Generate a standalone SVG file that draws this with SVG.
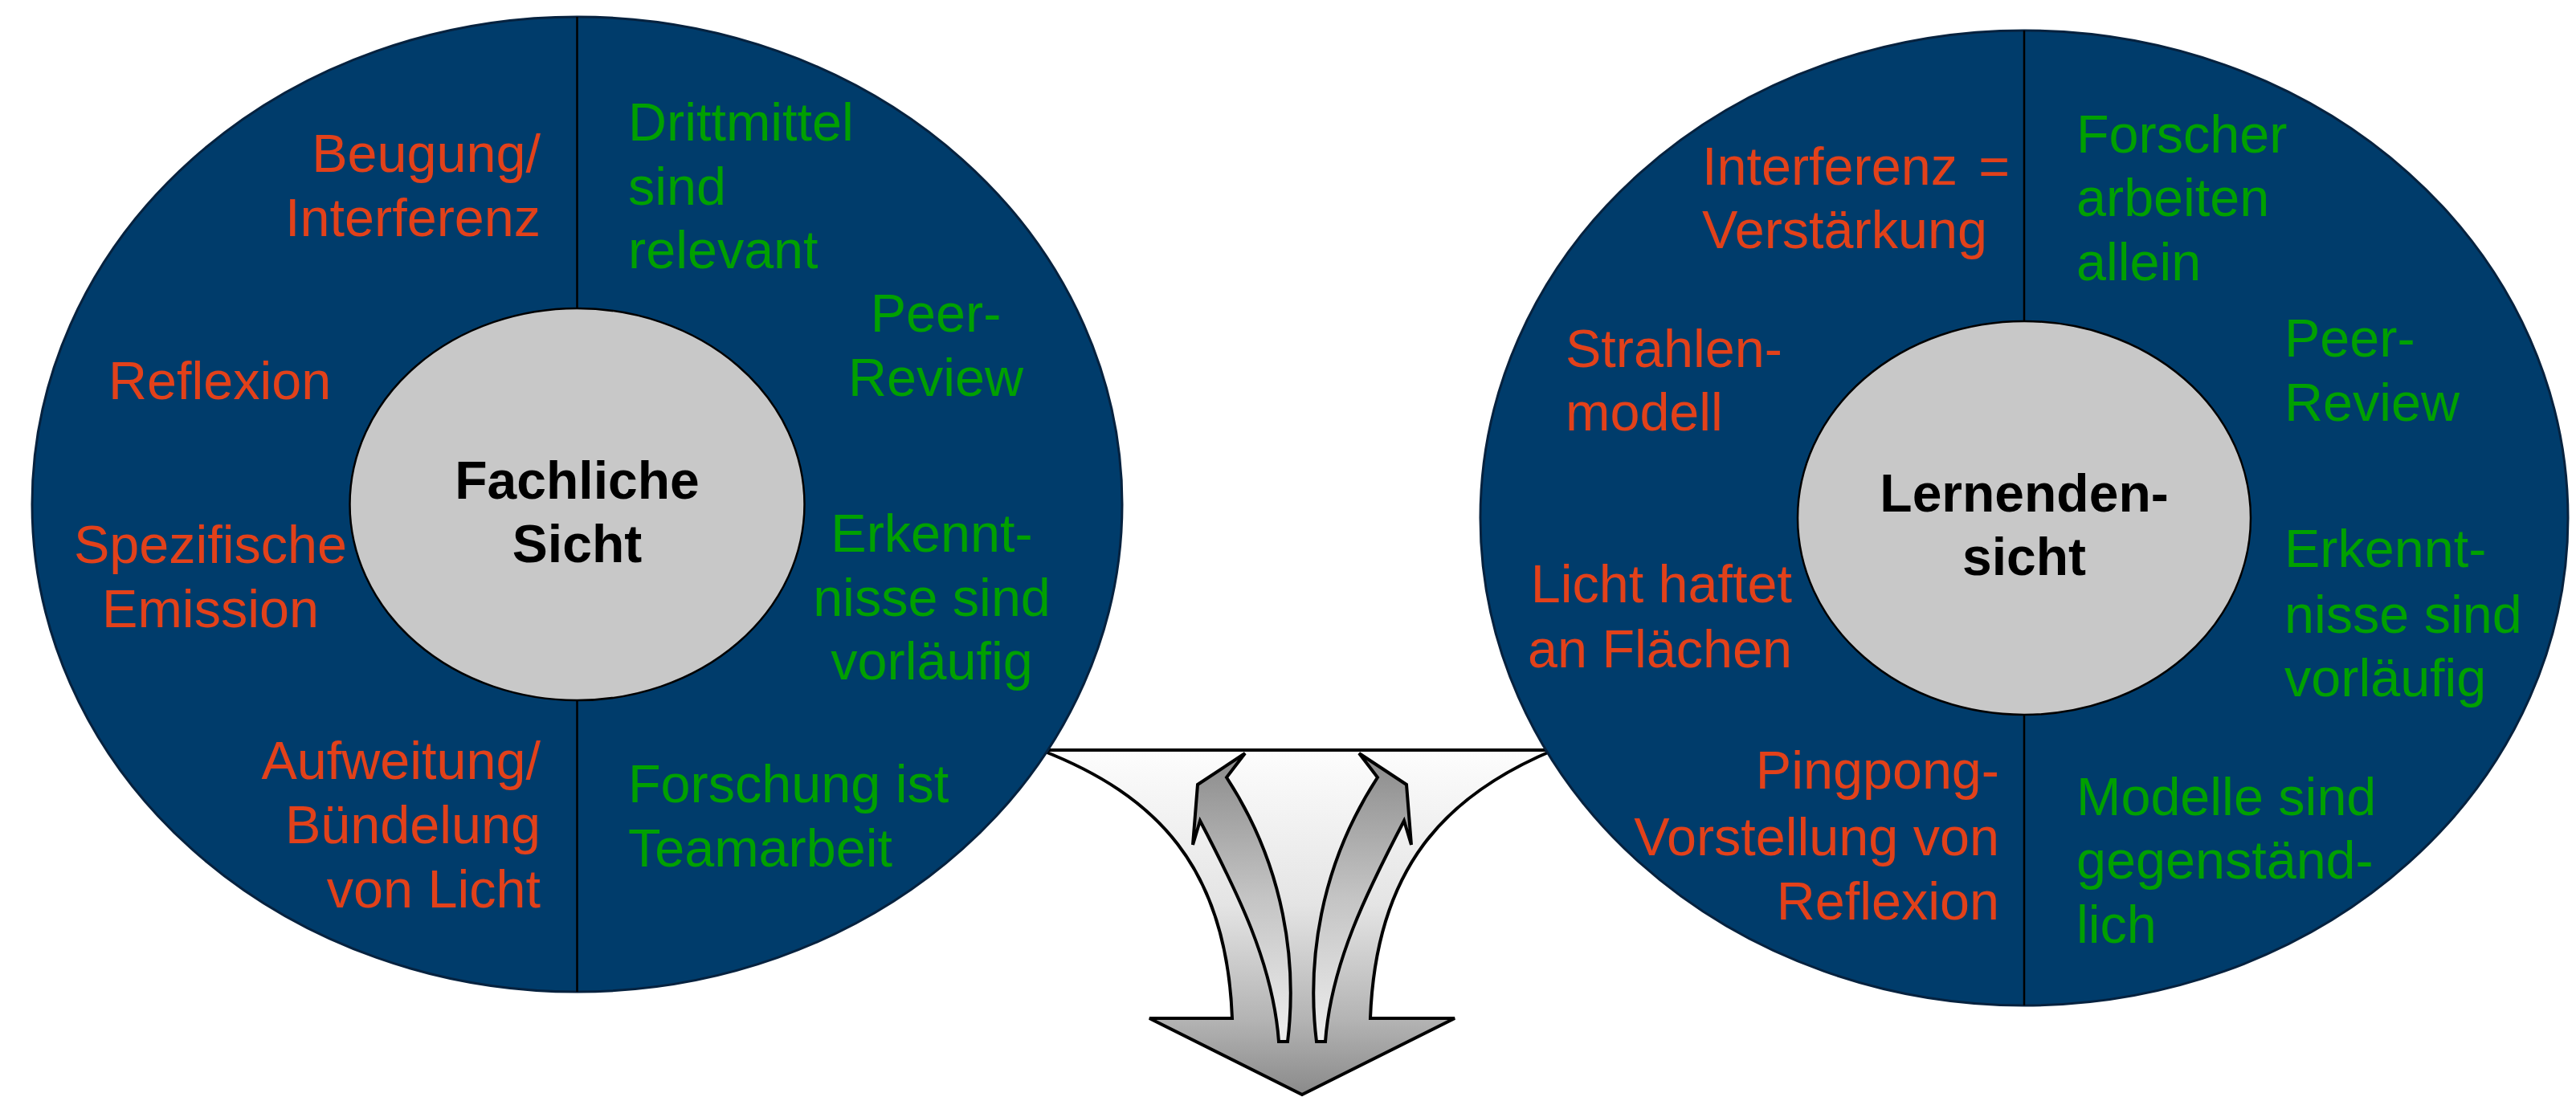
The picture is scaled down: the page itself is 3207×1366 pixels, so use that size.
<svg xmlns="http://www.w3.org/2000/svg" width="3207" height="1366" viewBox="0 0 3207 1366">
<defs>
<linearGradient id="gBig" x1="0" y1="934" x2="0" y2="1363" gradientUnits="userSpaceOnUse">
<stop offset="0" stop-color="#FDFDFD"/>
<stop offset="0.45" stop-color="#E4E4E4"/>
<stop offset="0.78" stop-color="#B4B4B4"/>
<stop offset="1" stop-color="#8A8A8A"/>
</linearGradient>
<linearGradient id="gSub" x1="0" y1="938" x2="0" y2="1297" gradientUnits="userSpaceOnUse">
<stop offset="0" stop-color="#8A8A8A"/>
<stop offset="0.5" stop-color="#C4C4C4"/>
<stop offset="1" stop-color="#EEEEEE"/>
</linearGradient>
<style>
.outer{fill:#003C6B;stroke:#06223F;stroke-width:3}
.inner{fill:#C8C8C8;stroke:#000;stroke-width:2.5}
.div{stroke:#000;stroke-width:2.5}
text{font-family:"Liberation Sans",Arial,sans-serif;font-size:66.5px}
.r{fill:#E2411A}
.g{fill:#00A000}
.c{font-weight:bold;font-size:66px;fill:#000;text-anchor:middle}
.e{text-anchor:end}
.m{text-anchor:middle}
.arr{stroke:#000;stroke-width:4;stroke-linejoin:miter}
</style>
</defs>
<rect width="3207" height="1366" fill="#fff"/>
<g id="connectors">
<path class="arr" fill="url(#gBig)" d="M1296,934 L1934,934 C1800,990 1713,1080 1706,1268 L1811,1268 L1621,1363 L1431,1268 L1534,1268 C1527,1080 1440,990 1296,934 Z"/>
<path class="arr" fill="url(#gSub)" d="M1550,938 L1491,977 L1485,1052 L1494,1022 C1540,1110 1585,1200 1592,1297 L1603,1297 C1615,1200 1600,1080 1527,968 Z"/>
<path class="arr" fill="url(#gSub)" d="M1692,938 L1751,977 L1757,1052 L1748,1022 C1702,1110 1657,1200 1650,1297 L1639,1297 C1627,1200 1642,1080 1715,968 Z"/>
</g>
<g id="fachliche">
<ellipse class="outer" cx="718.5" cy="628" rx="678.5" ry="607"/>
<line class="div" x1="718.5" y1="21" x2="718.5" y2="384"/>
<line class="div" x1="718.5" y1="872" x2="718.5" y2="1235"/>
<ellipse class="inner" cx="718.5" cy="628" rx="283" ry="244"/>
<text class="c" x="718.5" y="621">Fachliche</text>
<text class="c" x="718.5" y="700">Sicht</text>
<text class="r e" x="673" y="214">Beugung/</text>
<text class="r e" x="673" y="294">Interferenz</text>
<text class="r" x="135" y="497">Reflexion</text>
<text class="r m" x="262" y="701">Spezifische</text>
<text class="r m" x="262" y="781">Emission</text>
<text class="r e" x="673" y="970">Aufweitung/</text>
<text class="r e" x="673" y="1050">Bündelung</text>
<text class="r e" x="673" y="1130">von Licht</text>
<text class="g" x="782" y="175">Drittmittel</text>
<text class="g" x="782" y="255">sind</text>
<text class="g" x="782" y="334">relevant</text>
<text class="g m" x="1165" y="413">Peer-</text>
<text class="g m" x="1165" y="493">Review</text>
<text class="g m" x="1160" y="687">Erkennt-</text>
<text class="g m" x="1160" y="767">nisse sind</text>
<text class="g m" x="1160" y="846">vorläufig</text>
<text class="g" x="782" y="999">Forschung ist</text>
<text class="g" x="782" y="1079">Teamarbeit</text>
</g>
<g id="lernenden">
<ellipse class="outer" cx="2520" cy="645" rx="677" ry="607"/>
<line class="div" x1="2520" y1="38" x2="2520" y2="400"/>
<line class="div" x1="2520" y1="890" x2="2520" y2="1252"/>
<ellipse class="inner" cx="2520" cy="645" rx="282" ry="245"/>
<text class="c" x="2520" y="637">Lernenden-</text>
<text class="c" x="2520" y="716">sicht</text>
<text class="r" x="2119" y="230" word-spacing="8">Interferenz =</text>
<text class="r" x="2119" y="309">Verstärkung</text>
<text class="r" x="1949" y="457">Strahlen-</text>
<text class="r" x="1949" y="536">modell</text>
<text class="r e" x="2231" y="750">Licht haftet</text>
<text class="r e" x="2231" y="831">an Flächen</text>
<text class="r e" x="2489" y="982">Pingpong-</text>
<text class="r e" x="2489" y="1065">Vorstellung von</text>
<text class="r e" x="2489" y="1145">Reflexion</text>
<text class="g" x="2585" y="190">Forscher</text>
<text class="g" x="2585" y="269">arbeiten</text>
<text class="g" x="2585" y="349">allein</text>
<text class="g" x="2844" y="444">Peer-</text>
<text class="g" x="2844" y="524">Review</text>
<text class="g" x="2844" y="706">Erkennt-</text>
<text class="g" x="2844" y="788">nisse sind</text>
<text class="g" x="2844" y="867">vorläufig</text>
<text class="g" x="2585" y="1015">Modelle sind</text>
<text class="g" x="2585" y="1094">gegenständ-</text>
<text class="g" x="2585" y="1174">lich</text>
</g>
</svg>
